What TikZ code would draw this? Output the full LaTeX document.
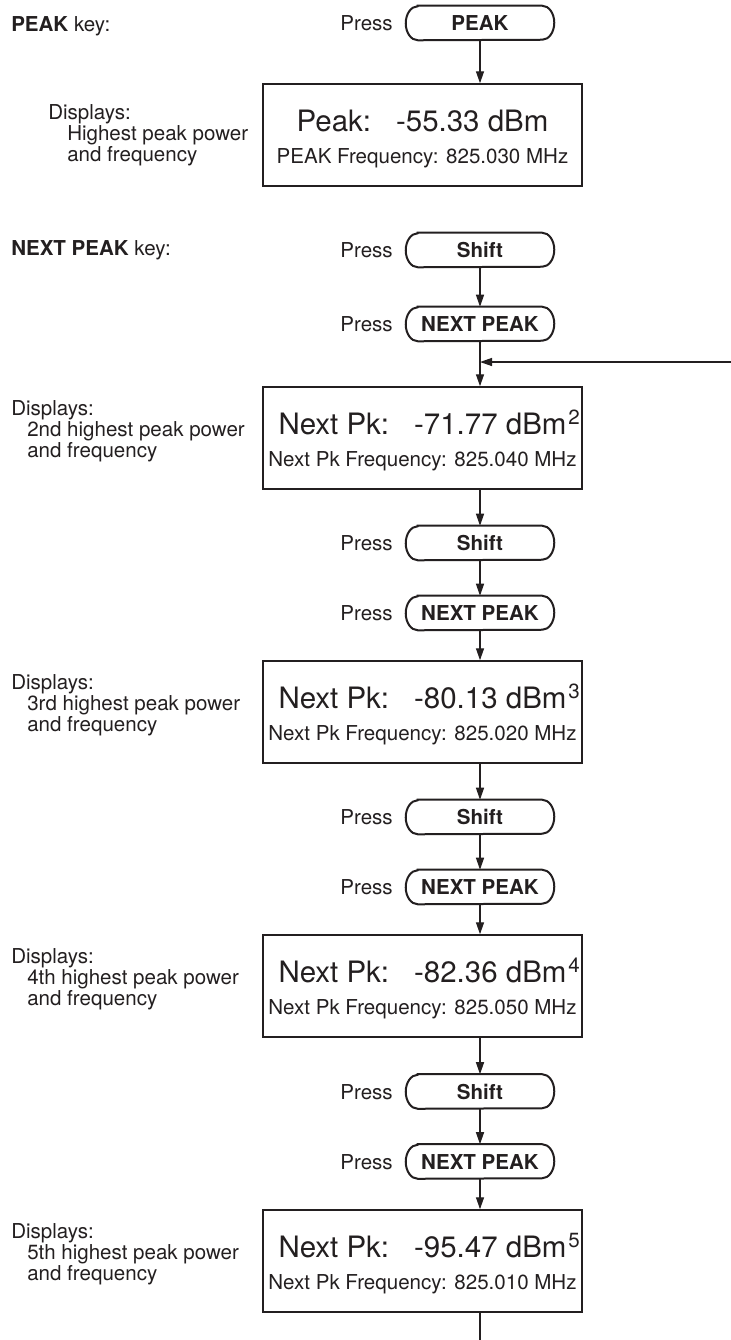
\documentclass[tikz,border=0pt]{standalone}
\usepackage{fontspec}
\setmainfont{TeX Gyre Heros}
\usetikzlibrary{arrows.meta}
\definecolor{ink}{RGB}{35,31,32}
\begin{document}
\begin{tikzpicture}[x=0.75pt,y=-0.75pt,
  txt/.style={inner sep=0pt, anchor=base west, text=ink, font=\fontsize{15.4pt}{15.75pt}\selectfont},
  presslbl/.style={inner sep=0pt, anchor=base east, text=ink, font=\fontsize{15.4pt}{15.75pt}\selectfont},
  keybox/.style={inner sep=0pt, minimum width=111pt, minimum height=25.5pt, text=ink, font=\fontsize{15.4pt}{15.75pt}\selectfont\bfseries},
  keyline/.style={draw=ink, line width=1.5pt},
  dispbox/.style={draw=ink, line width=1.1pt, minimum width=239.25pt, minimum height=76.5pt, inner sep=0pt},
  bigtxt/.style={inner sep=0pt, anchor=base, text=ink, font=\fontsize{22.1pt}{24pt}\selectfont},
  freqtxt/.style={inner sep=0pt, anchor=base, text=ink, font=\fontsize{15.4pt}{15.75pt}\selectfont},
  arr/.style={draw=ink, line width=1pt, -{Triangle[length=9pt,width=6pt]}},
  ln/.style={draw=ink, line width=1pt}]
\useasboundingbox (0,0) rectangle (731,1340);

% ---------- PEAK key section ----------
\node[txt] (h1) at (11,31.5) {\textbf{PEAK} key:};
\node[keybox] (k0) at (480,23) {PEAK};
\node[presslbl] (pk0) at (393,30.5) {Press};
\node[dispbox] (b1) at (422.5,135) {};
\node[bigtxt] (p1) at (422.5,131) {Peak:\hspace{18.75pt}-55.33 dBm};
\node[freqtxt] (f1) at (422.5,163) {PEAK Frequency: 825.030 MHz};
\node[txt] (d1a) at (48,119.5) {Displays:};
\node[txt] (d1b) at (67,140.5) {Highest peak power};
\node[txt] (d1c) at (67,161.5) {and frequency};
\draw[arr] (k0.south) -- (k0.south |- b1.north);

% ---------- NEXT PEAK key section ----------
\node[txt] (h2) at (11,255) {\textbf{NEXT PEAK} key:};

\foreach \i/\ys/\yn in {1/250/324, 2/543/613, 3/817/887, 4/1091.5/1161.5}{
  \node[keybox] (s\i) at (480,\ys) {Shift};
  \node[presslbl] (ps\i) at (393,\ys+7.5) {Press};
  \node[keybox] (n\i) at (480,\yn) {NEXT PEAK};
  \node[presslbl] (pn\i) at (393,\yn+7.5) {Press};
  \draw[arr] (s\i.south) -- (n\i.north);
}

\foreach \i/\t/\ord/\val/\fr in {2/387/2nd/-71.77/825.040, 3/661/3rd/-80.13/825.020, 4/935/4th/-82.36/825.050, 5/1210/5th/-95.47/825.010}{
  \node[dispbox] (b\i) at (422.5,\t+51) {};
  \node[bigtxt] (p\i) at (422.5,\t+47) {Next Pk:\hspace{18.75pt}\val\ dBm\rlap{\hspace{1.5pt}\raisebox{7pt}{\fontsize{15.4pt}{15pt}\selectfont \i}}};
  \node[freqtxt] (f\i) at (422.5,\t+79) {Next Pk Frequency: \fr\ MHz};
  \node[txt] (d\i a) at (11,\t+28) {Displays:};
  \node[txt] (d\i b) at (27,\t+49) {\ord\ highest peak power};
  \node[txt] (d\i c) at (27,\t+70) {and frequency};
}

% key outlines
\foreach \k in {k0,s1,n1,s2,n2,s3,n3,s4,n4}{
  \draw[keyline] ([xshift=9pt]\k.north west) -- ([xshift=-9pt]\k.north east)
    arc[start angle=90, end angle=-90, x radius=9pt, y radius=12.75pt]
    -- ([xshift=9pt]\k.south west)
    arc[start angle=270, end angle=90, x radius=9pt, y radius=12.75pt] -- cycle;
}

% connectors
\draw[arr] (n1.south) -- (n1.south |- b2.north);
\coordinate (fb) at (731,362);
\draw[arr] (fb) -- (fb -| n1.south);
\draw[arr] (b2.south -| s2.north) -- (s2.north);
\draw[arr] (n2.south) -- (n2.south |- b3.north);
\draw[arr] (b3.south -| s3.north) -- (s3.north);
\draw[arr] (n3.south) -- (n3.south |- b4.north);
\draw[arr] (b4.south -| s4.north) -- (s4.north);
\draw[arr] (n4.south) -- (n4.south |- b5.north);
\coordinate (e) at (480,1340);
\draw[ln] (b5.south -| e) -- (e);
\end{tikzpicture}
\end{document}
